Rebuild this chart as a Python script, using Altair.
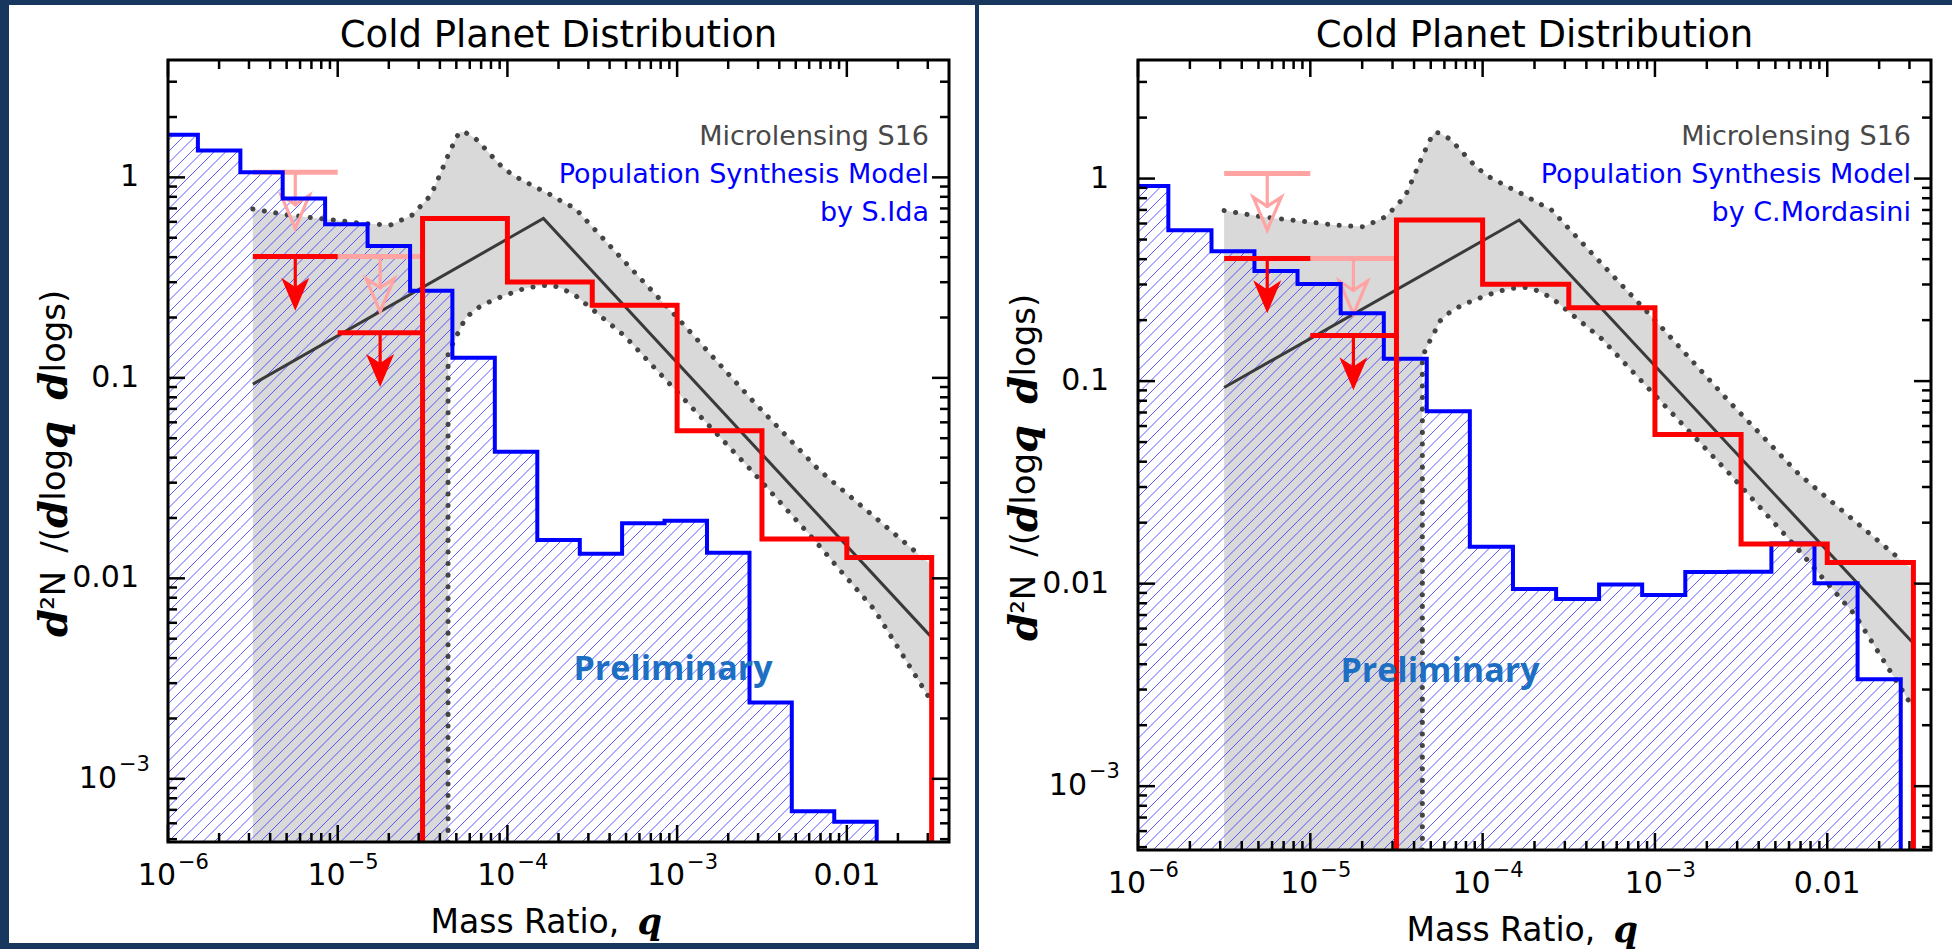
import math
import altair as alt
import pandas as pd

# ---------------- axis ranges ----------------
Q_MIN, Q_MAX = 1e-6, 0.04
V_MIN, V_MAX = 4.84e-4, 3.85

# ---------------- layout (plot areas, px) ----------------
PAD_LEFT, PAD_TOP = 168, 60
W_L, H_L = 781, 782
W_R, H_R = 793, 790
GAP = 189
CANVAS_W, CANVAS_H = 1952, 949

NAVY = "#17375e"
BLUE = "#0000ff"
RED = "#ff0000"
PINK = "#ffa3a3"
BAND_GRAY = "#d9d9d9"
FONT = "DejaVu Sans"
SERIF = "DejaVu Serif"

# ---------------- population synthesis histograms ----------------
BIN_EDGES = [1e-6, 1.5e-6, 2.67e-6, 4.74e-6, 8.43e-6, 1.5e-5, 2.67e-5, 4.74e-5,
             8.43e-5, 1.5e-4, 2.67e-4, 4.74e-4, 8.43e-4, 1.5e-3, 2.67e-3,
             4.74e-3, 8.43e-3, 1.5e-2, 2.67e-2]
IDA = [1.63, 1.36, 1.06, 0.785, 0.584, 0.455, 0.272, 0.126, 0.0428,
       0.01555, 0.01328, 0.01883, 0.01937, 0.0134, 0.0024, 0.00069, 0.00061]
MORDASINI = [0.92, 0.556, 0.438, 0.35, 0.302, 0.216, 0.129, 0.071, 0.0152,
             0.0094, 0.0084, 0.0099, 0.0088, 0.0114, 0.01146, 0.0158, 0.01005, 0.00337]

# ---------------- microlensing histogram (S16) ----------------
RED_EDGES = [3.162e-5, 1e-4, 3.162e-4, 1e-3, 3.162e-3, 1e-2, 3.162e-2]
RED_VALUES = [0.624, 0.301, 0.23, 0.0545, 0.0157, 0.0127]

# upper limits: bin start, bin end, limit value, arrow tip value
RED_LIMITS_Q0 = [3.162e-6, 1e-5]
RED_LIMITS_Q1 = [1e-5, 3.162e-5]
RED_LIMITS_V = [0.403, 0.168]
RED_LIMITS_TIP = [0.216, 0.090]
PINK_LIMITS_Q0 = [3.162e-6, 1e-5]
PINK_LIMITS_Q1 = [1e-5, 3.162e-5]
PINK_LIMITS_V = [1.06, 0.403]
PINK_LIMITS_TIP = [0.556, 0.214]

# ---------------- broken power law and its uncertainty band ----------------
LAW_Q = [3.162e-6, 1.63e-4, 3.11e-2]
LAW_V = [0.093, 0.624, 0.00515]

BAND_Q = [3.16e-6, 5.13e-6, 8.51e-6, 1.41e-5, 2.04e-5, 2.75e-5, 3.55e-5, 4.07e-5,
          4.47e-5, 4.47e-5, 5.01e-5, 5.25e-5, 5.62e-5, 6.46e-5, 7.08e-5, 8.32e-5,
          9.12e-5, 1.07e-4, 1.26e-4, 1.51e-4, 1.78e-4, 1.95e-4, 2.09e-4, 2.51e-4,
          4.90e-4, 1.0e-3, 2.69e-3, 6.76e-3, 8.71e-3, 1.45e-2, 3.11e-2]
BAND_HI = [0.695, 0.649, 0.619, 0.589, 0.578, 0.649, 0.817, 1.067,
           1.288, 1.288, 1.585, 1.69, 1.679, 1.567, 1.445, 1.245,
           1.148, 1.028, 0.955, 0.881, 0.822, 0.785, 0.759, 0.700,
           0.380, 0.200, 0.0794, 0.0351, 0.0292, 0.0203, 0.01175]
BAND_LO = [None, None, None, None, None, None, None, None,
           None, 0.132, 0.162, 0.174, 0.197, 0.219, 0.230, 0.245,
           0.253, 0.266, 0.279, 0.287, 0.290, 0.285, 0.279, 0.258,
           0.162, 0.0851, 0.0351, 0.0148, 0.01148, 0.0070, 0.00248]

# ---------------- ticks and labels ----------------
X_MAJOR = [1e-6, 1e-5, 1e-4, 1e-3, 1e-2]
X_MINOR = [m * d for d in [1e-6, 1e-5, 1e-4, 1e-3, 1e-2] for m in range(2, 10)
           if m * d < Q_MAX * 0.999]
Y_MAJOR = [1e-3, 1e-2, 1e-1, 1.0]
Y_MINOR = [m * d for d in [1e-4, 1e-3, 1e-2, 1e-1, 1.0] for m in range(2, 10)
           if V_MIN < m * d < V_MAX]
X_LABEL_V = [1e-6, 1e-5, 1e-4, 1e-3, 1e-2]
X_LABEL_BASE = ["10", "10", "10", "10", "0.01"]
X_LABEL_EXP = ["\u22126", "\u22125", "\u22124", "\u22123", ""]
Y_LABEL_V = [1.0, 0.1, 0.01, 1e-3]
Y_LABEL_BASE = ["1", "0.1", "0.01", "10"]
Y_LABEL_EXP = ["", "", "", "\u22123"]

TITLE = "Cold Planet Distribution"
LEGEND_LINES = ["Microlensing S16", "Population Synthesis Model"]

# y-axis title pieces, bottom to top: (text, bold-italic?, gap after)
Y_TITLE = [("d", True, 0), ("\u00b2N", False, 18), ("/(", False, 0),
           ("d", True, 0), ("log", False, 0), ("q", True, 22),
           ("d", True, 0), ("logs)", False, 0)]

ARROW_PATH = "M0,0 L-0.85,-2 L0,-1.45 L0.85,-2 Z"

# approximate advance widths (em) used to set the rotated title pieces
EM_SANS = {"\u00b2": 0.401, "N": 0.748, "/": 0.337, "(": 0.390, ")": 0.390,
           "l": 0.278, "o": 0.612, "g": 0.635, "s": 0.521}
EM_BI = 0.68


def xq(field):
    return alt.X(field, type="quantitative",
                 scale=alt.Scale(type="log", domain=[Q_MIN, Q_MAX], nice=False),
                 axis=None)


def yv(field, **kw):
    return alt.Y(field, type="quantitative",
                 scale=alt.Scale(type="log", domain=[V_MIN, V_MAX], nice=False),
                 axis=None, **kw)


def text_at(text, x, y, **kw):
    base = dict(font=FONT, fontSize=27, color="black")
    base.update(kw)
    return alt.Chart(pd.DataFrame({"t": [text]})).mark_text(**base).encode(
        x=alt.value(x), y=alt.value(y), text="t:N")


def rect_at(x, x2, y, y2, **kw):
    return alt.Chart(pd.DataFrame({"a": [0]})).mark_rect(**kw).encode(
        x=alt.value(x), x2=alt.value(x2), y=alt.value(y), y2=alt.value(y2))


def step_points(edges, values, from_floor):
    pts = []
    if from_floor:
        pts.append((edges[0], V_MIN))
    for k, v in enumerate(values):
        pts.append((edges[k], v))
        pts.append((edges[k + 1], v))
    pts.append((edges[len(values)], V_MIN))
    return pd.DataFrame({"q": [p[0] for p in pts], "v": [p[1] for p in pts],
                         "i": list(range(len(pts)))})


def hatch_rules(edges, values, W, H, spacing=11.5):
    """Diagonal '/' hatching under a histogram, built in screen space."""
    lx0, lx1 = math.log10(Q_MIN), math.log10(Q_MAX)
    ly0, ly1 = math.log10(V_MIN), math.log10(V_MAX)

    def px(q):
        return (math.log10(q) - lx0) / (lx1 - lx0) * W

    def py(v):
        return (ly1 - math.log10(v)) / (ly1 - ly0) * H

    def qx(x):
        return 10 ** (lx0 + x / W * (lx1 - lx0))

    def vy(y):
        return 10 ** (ly1 - y / H * (ly1 - ly0))

    rows = []
    for k in range(int((W + H) / spacing) + 2):
        c = k * spacing
        for a, b, v in zip(edges[:-1], edges[1:], values):
            xa, xb, yt = px(a), px(b), py(v)
            x1, x2 = max(xa, c - H), min(xb, c - yt)
            if x2 > x1:
                rows.append({"q": qx(x1), "v": vy(c - x1),
                             "q2": qx(x2), "v2": vy(c - x2)})
    return pd.DataFrame(rows)


def panel(values, author, W, H, prelim_x, prelim_y, with_canvas):
    layers = []
    if with_canvas:
        layers.append(rect_at(-PAD_LEFT, CANVAS_W - PAD_LEFT, -PAD_TOP,
                              CANVAS_H - PAD_TOP, color=NAVY))
        layers.append(rect_at(-159, 807, -55, 883, color="white"))
    else:
        layers.append(rect_at(-159, CANVAS_W - (PAD_LEFT + W_L + GAP), -55,
                              CANVAS_H - PAD_TOP, color="white"))

    # uncertainty band
    band = pd.DataFrame({"q": BAND_Q, "hi": BAND_HI,
                         "lo": [V_MIN if v is None else v for v in BAND_LO],
                         "i": list(range(len(BAND_Q)))})
    layers.append(alt.Chart(band).mark_area(
        color=BAND_GRAY, opacity=1, clip=True).encode(
        x=xq("q"), y=yv("hi", stack=False), y2="lo"))

    # hatching under the model histogram
    layers.append(alt.Chart(hatch_rules(BIN_EDGES, values, W, H)).mark_rule(
        color="#4040ff", strokeWidth=1, opacity=0.85, clip=True).encode(
        x=xq("q"), y=yv("v"), x2="q2", y2="v2"))

    # dotted band edges
    dot = dict(color="#444444", strokeWidth=5, strokeDash=[0.1, 11.5],
               strokeCap="round", clip=True)
    upper = band[["q", "hi", "i"]].rename(columns={"hi": "v"})
    first_lo = next(k for k, v in enumerate(BAND_LO) if v is not None) - 1
    lower = band.iloc[first_lo:][["q", "lo", "i"]].rename(columns={"lo": "v"})
    layers.append(alt.Chart(upper).mark_line(**dot).encode(
        x=xq("q"), y=yv("v"), order="i:Q"))
    layers.append(alt.Chart(lower).mark_line(**dot).encode(
        x=xq("q"), y=yv("v"), order="i:Q"))

    # broken power law
    law = pd.DataFrame({"q": LAW_Q, "v": LAW_V, "i": [0, 1, 2]})
    layers.append(alt.Chart(law).mark_line(color="#3a3a3a", strokeWidth=3,
                                           clip=True).encode(
        x=xq("q"), y=yv("v"), order="i:Q"))

    # upper-limit markers
    def limits(q0, q1, v, tip, color, filled):
        qc = [math.sqrt(a * b) for a, b in zip(q0, q1)]
        d = pd.DataFrame({"q0": q0, "q1": q1, "qc": qc, "v": v, "tip": tip,
                          "notch": [t * 10 ** (22 / 200) for t in tip]})
        out = [
            alt.Chart(d).mark_rule(color=color, strokeWidth=5, clip=True).encode(
                x=xq("q0"), x2="q1", y=yv("v")),
            alt.Chart(d).mark_rule(color=color, strokeWidth=3.2, clip=True).encode(
                x=xq("qc"), y=yv("v"), y2="notch"),
        ]
        if filled:
            out.append(alt.Chart(d).mark_point(
                shape=ARROW_PATH, size=1089, filled=True, fill=color,
                fillOpacity=1, strokeWidth=0).encode(x=xq("qc"), y=yv("tip")))
        else:
            out.append(alt.Chart(d).mark_point(
                shape=ARROW_PATH, size=1089, filled=False, stroke=color,
                strokeWidth=3.2, opacity=1).encode(x=xq("qc"), y=yv("tip")))
        return out

    layers += limits(PINK_LIMITS_Q0, PINK_LIMITS_Q1, PINK_LIMITS_V,
                     PINK_LIMITS_TIP, PINK, False)

    # model histogram outline
    layers.append(alt.Chart(step_points(BIN_EDGES, values, False)).mark_line(
        color=BLUE, strokeWidth=4, clip=True).encode(
        x=xq("q"), y=yv("v"), order="i:Q"))

    # microlensing histogram
    layers.append(alt.Chart(step_points(RED_EDGES, RED_VALUES, True)).mark_line(
        color=RED, strokeWidth=5, clip=True).encode(
        x=xq("q"), y=yv("v"), order="i:Q"))

    layers += limits(RED_LIMITS_Q0, RED_LIMITS_Q1, RED_LIMITS_V,
                     RED_LIMITS_TIP, RED, True)

    # frame
    layers.append(rect_at(0, W, 0, H, fillOpacity=0, stroke="black",
                          strokeWidth=3))

    # inward ticks on all four sides
    tick = dict(color="black", strokeWidth=2.5)
    for vals, ln in ((X_MAJOR, 17), (X_MINOR, 9)):
        d = pd.DataFrame({"q": vals})
        layers.append(alt.Chart(d).mark_rule(**tick).encode(
            x=xq("q"), y=alt.value(H), y2=alt.value(H - ln)))
        layers.append(alt.Chart(d).mark_rule(**tick).encode(
            x=xq("q"), y=alt.value(0), y2=alt.value(ln)))
    for vals, ln in ((Y_MAJOR, 17), (Y_MINOR, 9)):
        d = pd.DataFrame({"v": vals})
        layers.append(alt.Chart(d).mark_rule(**tick).encode(
            y=yv("v"), x=alt.value(0), x2=alt.value(ln)))
        layers.append(alt.Chart(d).mark_rule(**tick).encode(
            y=yv("v"), x=alt.value(W), x2=alt.value(W - ln)))

    # tick labels
    xl = pd.DataFrame({"q": X_LABEL_V, "b": X_LABEL_BASE, "e": X_LABEL_EXP})
    xl_plain = xl[xl["e"] == ""]
    xl_pow = xl[xl["e"] != ""]
    layers.append(alt.Chart(xl_plain).mark_text(
        font=FONT, fontSize=30, align="center", baseline="alphabetic").encode(
        x=xq("q"), y=alt.value(H + 43), text="b:N"))
    layers.append(alt.Chart(xl_pow).mark_text(
        font=FONT, fontSize=30, align="right", baseline="alphabetic", dx=8).encode(
        x=xq("q"), y=alt.value(H + 43), text="b:N"))
    layers.append(alt.Chart(xl_pow).mark_text(
        font=FONT, fontSize=21, align="left", baseline="alphabetic", dx=10).encode(
        x=xq("q"), y=alt.value(H + 27), text="e:N"))

    yl = pd.DataFrame({"v": Y_LABEL_V, "b": Y_LABEL_BASE, "e": Y_LABEL_EXP})
    yl_plain = yl[yl["e"] == ""]
    yl_pow = yl[yl["e"] != ""]
    layers.append(alt.Chart(yl_plain).mark_text(
        font=FONT, fontSize=30, align="right", baseline="middle").encode(
        y=yv("v"), x=alt.value(-29), text="b:N"))
    layers.append(alt.Chart(yl_pow).mark_text(
        font=FONT, fontSize=30, align="right", baseline="middle").encode(
        y=yv("v"), x=alt.value(-51), text="b:N"))
    layers.append(alt.Chart(yl_pow).mark_text(
        font=FONT, fontSize=21, align="left", baseline="middle", dy=-14).encode(
        y=yv("v"), x=alt.value(-49), text="e:N"))

    # titles
    layers.append(text_at(TITLE, W / 2, -24, fontSize=37, align="center"))
    layers.append(text_at("Mass Ratio,", W / 2 - 128, H + 81, fontSize=33,
                          align="left"))
    layers.append(text_at("q", W / 2 + 79, H + 81, font=SERIF, fontSize=35,
                          fontStyle="italic", fontWeight="bold", align="left"))

    # rotated y title, pieces laid end to end from the bottom up
    n_size, bi_size = 34, 40
    pos = H / 2 + 186
    for txt, bi, gap in Y_TITLE:
        if bi:
            layers.append(text_at(txt, -113, pos, font=SERIF, fontSize=bi_size,
                                  fontStyle="italic", fontWeight="bold",
                                  angle=270, align="left"))
            pos -= EM_BI * bi_size
        else:
            layers.append(text_at(txt, -113, pos, fontSize=n_size, angle=270,
                                  align="left"))
            pos -= sum(EM_SANS[c] for c in txt) * n_size
        pos -= gap

    # legend text
    layers.append(text_at(LEGEND_LINES[0], W - 20, 77, color="#484848",
                          align="right"))
    layers.append(text_at(LEGEND_LINES[1], W - 20, 115, color=BLUE,
                          align="right"))
    layers.append(text_at(author, W - 20, 153, color=BLUE, align="right"))

    layers.append(text_at("Preliminary", prelim_x, prelim_y, font="Open Sans",
                          fontSize=34, fontWeight="bold", color="#1d6fc3",
                          align="center"))

    return alt.layer(*layers).properties(width=W, height=H)


left = panel(IDA, "by S.Ida", W_L, H_L, 505, 610, True)
right = panel(MORDASINI, "by C.Mordasini", W_R, H_R, 302, 612, False)

chart = alt.hconcat(left, right, spacing=GAP, bounds="flush").properties(
    padding=0, background=NAVY
).configure_view(stroke=None)

chart.save("out.html", embed_options={"renderer": "svg", "actions": False})
